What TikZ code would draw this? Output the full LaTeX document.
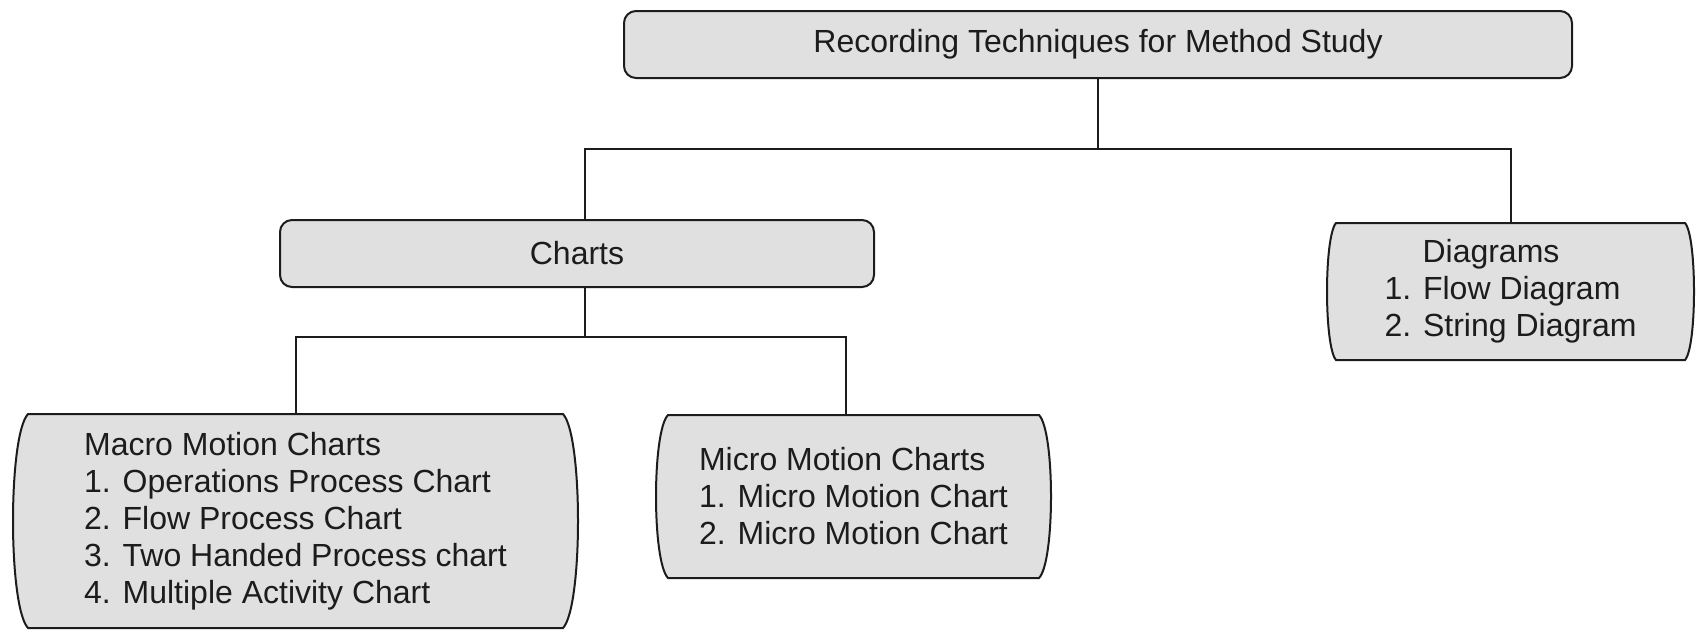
\documentclass[tikz,border=0pt]{standalone}
\usepackage{fontspec}
\setmainfont{Liberation Sans}
\usetikzlibrary{calc}

\definecolor{boxfill}{RGB}{224,224,224}
\definecolor{ink}{RGB}{28,28,28}

\tikzset{
  boxline/.style={draw=ink, line width=1pt, fill=boxfill},
  txt/.style={font=\fontsize{16}{18.5}\selectfont, text=ink},
  roundbox/.style={boxline, txt, rectangle, rounded corners=6pt,
    inner sep=0pt, outer sep=0pt, align=center},
  listbox/.style={txt, rectangle, inner sep=0pt, outer sep=0pt, align=left},
  link/.style={draw=ink, line width=1pt},
}

% Box with straight top/bottom and outward-bowed sides.
% #1,#2: left and top extremes; #3,#4: right and bottom extremes; #5: bow depth
\newcommand\bowedbox[5]{%
  \path[boxline]
    ({#1+#5},#2) -- ({#3-#5},#2)
    .. controls ({#3+#5/3},{#2+0.1*(#4-#2)}) and ({#3+#5/3},{#4-0.1*(#4-#2)}) .. ({#3-#5},#4)
    -- ({#1+#5},#4)
    .. controls ({#1-#5/3},{#4-0.1*(#4-#2)}) and ({#1-#5/3},{#2+0.1*(#4-#2)}) .. cycle;}

\begin{document}
\begin{tikzpicture}[x=0.5pt, y=-0.5pt]
  \useasboundingbox (0,0) rectangle (1696,629);

  % bowed outlines
  \bowedbox{13}{414}{578}{628}{15}
  \bowedbox{656}{415}{1051}{578}{12}
  \bowedbox{1327}{223}{1694}{360}{9}

  % rounded boxes
  \node[roundbox, minimum width=474pt, minimum height=33.5pt] (top) at (1098,44.5)
    {Recording Techniques for Method Study};
  \node[roundbox, minimum width=297pt, minimum height=33.5pt] (charts) at (577,253.5)
    {Charts};

  % list boxes
  \node[listbox, minimum width=282.5pt, minimum height=107pt] (macro) at (295.5,521)
    {Macro Motion Charts\\1. Operations Process Chart\\2. Flow Process Chart\\3. Two Handed Process chart\\4. Multiple Activity Chart};
  \node[listbox, minimum width=197.5pt, minimum height=81.5pt] (micro) at (853.5,496.5)
    {Micro Motion Charts\\1. Micro Motion Chart\\2. Micro Motion Chart};
  \node[listbox, minimum width=183.5pt, minimum height=68.5pt] (diagrams) at (1510.5,291.5)
    {\hspace*{19pt}Diagrams\\1. Flow Diagram\\2. String Diagram};

  % connectors
  \coordinate (j0) at ($(top.south)+(0,71)$);
  \draw[link] (top.south) -- (j0);
  \draw[link] ([xshift=4pt]charts.north) |- (j0) -| (diagrams.north);

  \coordinate (j1) at ($([xshift=4pt]charts.south)+(0,50)$);
  \draw[link] ([xshift=4pt]charts.south) -- (j1);
  \draw[link] (macro.north) |- (j1) -| ([xshift=-3.75pt]micro.north);
\end{tikzpicture}
\end{document}
